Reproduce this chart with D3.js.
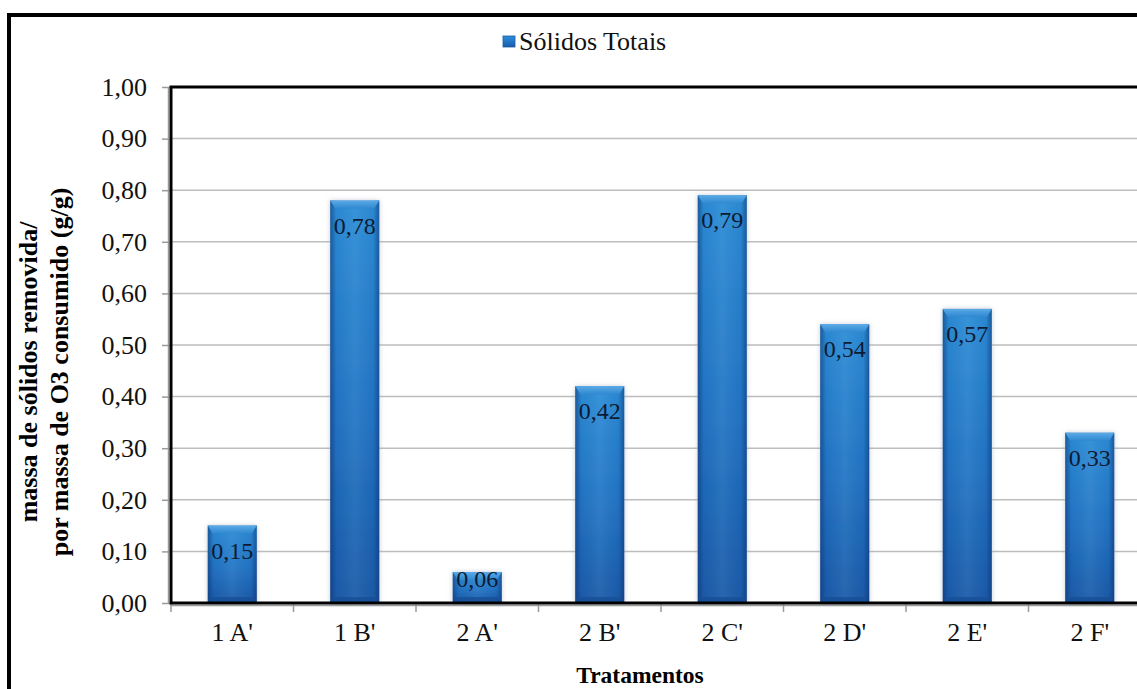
<!DOCTYPE html>
<html>
<head>
<meta charset="utf-8">
<script src="https://cdn.jsdelivr.net/npm/d3@7/dist/d3.min.js"></script>
<style>
  body { margin: 0; background: #fff; }
  svg { display: block; }
  svg text { font-family: "Times New Roman", "Liberation Serif", Tinos, "Nimbus Roman", "DejaVu Serif", serif; }
</style>
</head>
<body>
<svg id="chart" width="1137" height="689"></svg>
<script>
// Treatments and removal ratio (g solids removed per g O3 consumed)
const categories = ["1 A'", "1 B'", "2 A'", "2 B'", "2 C'", "2 D'", "2 E'", "2 F'"];
const solidosTotais = [0.15, 0.78, 0.06, 0.42, 0.79, 0.54, 0.57, 0.33];
const yTicks = [0, 0.1, 0.2, 0.3, 0.4, 0.5, 0.6, 0.7, 0.8, 0.9, 1.0];
const seriesName = "Sólidos Totais";
const xTitle = "Tratamentos";
const yTitleLines = ["massa de sólidos removida/", "por massa de O3 consumido (g/g)"];

const W = 1137, H = 689;
const plot = { left: 171, top: 87, right: 1151, bottom: 603 };

const ptBR = d3.formatLocale({ decimal: ",", thousands: ".", grouping: [3], currency: ["R$", ""] });
const fmt = ptBR.format(".2f");

const svg = d3.select("#chart");

const x = d3.scaleBand()
  .domain(categories)
  .range([plot.left, plot.right])
  .paddingInner(0.6)
  .paddingOuter(0.3);

const y = d3.scaleLinear()
  .domain([0, 1])
  .range([plot.bottom, plot.top]);

// ---- defs: bar shading and soft shadow
const defs = svg.append("defs");

const vGrad = defs.append("linearGradient")
  .attr("id", "barFill").attr("x1", 0).attr("y1", 0).attr("x2", 0).attr("y2", 1);
vGrad.append("stop").attr("offset", "0%").attr("stop-color", "#2d8dd6");
vGrad.append("stop").attr("offset", "55%").attr("stop-color", "#2274c4");
vGrad.append("stop").attr("offset", "100%").attr("stop-color", "#1a5aa8");

const hGrad = defs.append("linearGradient")
  .attr("id", "barSides").attr("x1", 0).attr("y1", 0).attr("x2", 1).attr("y2", 0);
hGrad.append("stop").attr("offset", "0%").attr("stop-color", "#0b2f6e").attr("stop-opacity", 0.55);
hGrad.append("stop").attr("offset", "12%").attr("stop-color", "#0b2f6e").attr("stop-opacity", 0.05);
hGrad.append("stop").attr("offset", "50%").attr("stop-color", "#ffffff").attr("stop-opacity", 0.06);
hGrad.append("stop").attr("offset", "88%").attr("stop-color", "#0b2f6e").attr("stop-opacity", 0.05);
hGrad.append("stop").attr("offset", "100%").attr("stop-color", "#0b2f6e").attr("stop-opacity", 0.55);

const lipGrad = defs.append("linearGradient")
  .attr("id", "barLip").attr("x1", 0).attr("y1", 0).attr("x2", 0).attr("y2", 1);
lipGrad.append("stop").attr("offset", "0%").attr("stop-color", "#5aaae6");
lipGrad.append("stop").attr("offset", "100%").attr("stop-color", "#2f88d0");

const shadow = defs.append("filter").attr("id", "barShadow")
  .attr("x", "-30%").attr("y", "-10%").attr("width", "160%").attr("height", "120%");
shadow.append("feDropShadow")
  .attr("dx", 0).attr("dy", 0).attr("stdDeviation", 2.5)
  .attr("flood-color", "#9aa6b8").attr("flood-opacity", 0.6);

// ---- background
svg.append("rect").attr("width", W).attr("height", H).attr("fill", "#fff");

// ---- gridlines
svg.append("g")
  .selectAll("line")
  .data(yTicks.filter(d => d > 0 && d < 1))
  .join("line")
  .attr("x1", plot.left).attr("x2", plot.right)
  .attr("y1", d => y(d)).attr("y2", d => y(d))
  .attr("stroke", "#bdbdbd").attr("stroke-width", 1.5);

// ---- y axis ticks and labels
const yAxis = svg.append("g").attr("transform", `translate(${plot.left},0)`)
  .call(d3.axisLeft(y).tickValues(yTicks).tickFormat(fmt).tickSize(9).tickPadding(15));
yAxis.attr("font-family", null);
yAxis.select(".domain").remove();
yAxis.selectAll(".tick line").attr("stroke", "#9a9a9a").attr("stroke-width", 1.5);
yAxis.selectAll(".tick text")
  .attr("font-size", 26).attr("fill", "#111");

// ---- x axis: ticks at category boundaries, labels under each band
const boundaries = d3.range(categories.length + 1).map(i => plot.left + i * x.step());
svg.append("g")
  .selectAll("line")
  .data(boundaries)
  .join("line")
  .attr("x1", d => d).attr("x2", d => d)
  .attr("y1", plot.bottom).attr("y2", plot.bottom + 9)
  .attr("stroke", "#9a9a9a").attr("stroke-width", 1.5);

svg.append("g")
  .selectAll("text")
  .data(categories)
  .join("text")
  .attr("x", d => x(d) + x.bandwidth() / 2)
  .attr("y", 641)
  .attr("text-anchor", "middle")
  .attr("font-size", 26).attr("fill", "#111")
  .text(d => d);

// ---- bars
const bars = svg.append("g")
  .selectAll("g")
  .data(categories.map((c, i) => ({ c, v: solidosTotais[i] })))
  .join("g");

bars.append("rect")
  .attr("x", d => x(d.c)).attr("y", d => y(d.v))
  .attr("width", x.bandwidth()).attr("height", d => y(0) - y(d.v))
  .attr("fill", "url(#barFill)")
  .attr("filter", "url(#barShadow)");

bars.append("rect")
  .attr("x", d => x(d.c)).attr("y", d => y(d.v))
  .attr("width", x.bandwidth()).attr("height", d => y(0) - y(d.v))
  .attr("fill", "url(#barSides)");

// top bevel lip
const lip = 8;
bars.append("polygon")
  .attr("points", d => {
    const x0 = x(d.c), x1 = x0 + x.bandwidth(), t = y(d.v);
    return [[x0, t], [x1, t], [x1 - 5, t + lip], [x0 + 5, t + lip]].map(p => p.join(",")).join(" ");
  })
  .attr("fill", "url(#barLip)");

// bottom bevel
bars.append("polygon")
  .attr("points", d => {
    const x0 = x(d.c), x1 = x0 + x.bandwidth(), b = y(0);
    return [[x0, b], [x1, b], [x1 - 5, b - 6], [x0 + 5, b - 6]].map(p => p.join(",")).join(" ");
  })
  .attr("fill", "#174f96").attr("opacity", 0.8);

// value labels, inside the top of each bar
bars.append("text")
  .attr("x", d => x(d.c) + x.bandwidth() / 2)
  .attr("y", d => Math.min(y(d.v) + 33, y(0) - 16))
  .attr("text-anchor", "middle")
  .attr("font-size", 24).attr("fill", "#0d1b33")
  .text(d => fmt(d.v));

// ---- plot frame
svg.append("line")
  .attr("x1", plot.left - 2.5).attr("x2", plot.left - 2.5)
  .attr("y1", plot.top).attr("y2", plot.bottom)
  .attr("stroke", "#9a9a9a").attr("stroke-width", 1.5);
svg.append("line")
  .attr("x1", plot.left).attr("x2", plot.right)
  .attr("y1", plot.bottom + 2.5).attr("y2", plot.bottom + 2.5)
  .attr("stroke", "#9a9a9a").attr("stroke-width", 1.5);
svg.append("rect")
  .attr("x", plot.left).attr("y", plot.top)
  .attr("width", plot.right - plot.left).attr("height", plot.bottom - plot.top)
  .attr("fill", "none").attr("stroke", "#000").attr("stroke-width", 3);

// ---- legend
const legend = svg.append("g");
legend.append("rect")
  .attr("x", 503).attr("y", 36).attr("width", 12).attr("height", 11)
  .attr("fill", "url(#barFill)").attr("stroke", "#1a5aa8").attr("stroke-width", 0.8);
legend.append("text")
  .attr("x", 519).attr("y", 50)
  .attr("font-size", 26).attr("fill", "#111")
  .text(seriesName);

// ---- axis titles
svg.append("text")
  .attr("x", 640).attr("y", 683)
  .attr("text-anchor", "middle")
  .attr("font-size", 23.5).attr("font-weight", "bold").attr("fill", "#000")
  .text(xTitle);

const yTitle = svg.append("text")
  .attr("transform", "translate(0,372) rotate(-90)")
  .attr("text-anchor", "middle")
  .attr("font-size", 26).attr("font-weight", "bold").attr("fill", "#000");
yTitle.selectAll("tspan")
  .data(yTitleLines)
  .join("tspan")
  .attr("x", 0)
  .attr("y", (d, i) => 37 + i * 31)
  .text(d => d);

// ---- outer frame
svg.append("rect")
  .attr("x", 9).attr("y", 15)
  .attr("width", W + 10).attr("height", H + 10)
  .attr("fill", "none").attr("stroke", "#000").attr("stroke-width", 4);
</script>
</body>
</html>
